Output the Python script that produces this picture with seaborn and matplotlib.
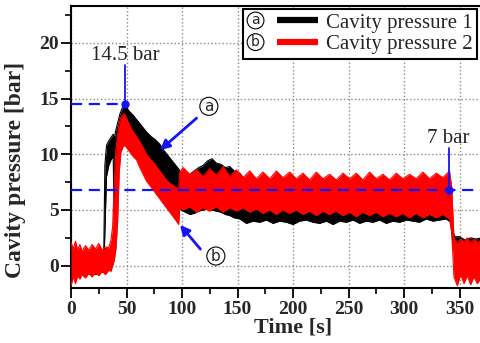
import numpy as np
import pandas as pd
import matplotlib
matplotlib.use("Agg")
import matplotlib.pyplot as plt
import seaborn as sns
from matplotlib.lines import Line2D
from matplotlib.text import Text
from matplotlib.legend_handler import HandlerBase
from matplotlib.ticker import MultipleLocator

# ---------------- data ----------------
# Cavity pressure 1 (black): lower / upper envelope of the noisy trace
t1 = [0, 5, 10, 15, 20, 25, 29.5, 30.5, 32, 34, 36, 38, 39, 40, 42, 44, 46, 48.5,
      52, 56, 60, 64, 68, 72, 76, 80, 84, 88, 92, 96, 97.5, 99, 103, 107, 111, 115,
      119, 123, 127, 131, 135, 139, 143, 147, 152, 158, 164, 170, 176, 182, 188,
      194, 200, 206, 212, 218, 224, 230, 236, 242, 248, 254, 260, 266, 272, 278,
      284, 290, 296, 302, 308, 314, 320, 326, 332, 338, 342, 344, 346, 350, 355,
      360, 365, 370]
p1_lo = [-0.9, -0.7, -0.8, -0.6, -0.8, -0.7, -0.5, 3.0, 8.0, 9.0, 9.5, 9.8, 3.3, 8.5,
         10.0, 11.0, 11.8, 12.2, 11.6, 11.0, 10.5, 10.0, 9.5, 9.0, 8.6, 8.2, 7.7,
         7.2, 6.8, 6.4, 6.3, 5.0, 4.8, 4.6, 4.7, 4.9, 5.0, 5.1, 5.0, 4.9, 4.8, 4.6,
         4.5, 4.3, 4.2, 3.8, 4.0, 3.9, 4.1, 3.8, 4.0, 3.9, 3.7, 4.0, 4.1, 3.9, 3.8,
         4.0, 3.7, 4.0, 3.9, 4.1, 3.8, 4.0, 3.9, 4.1, 3.8, 4.0, 3.9, 4.1, 4.0, 3.9,
         4.2, 4.0, 4.1, 4.2, 3.9, 2.0, 1.2, 1.0, 1.2, 1.1, 1.0, 1.1]
p1_hi = [1.0, 0.9, 0.8, 0.6, 0.7, 0.8, 1.0, 9.0, 10.8, 11.2, 11.5, 11.8, 11.4, 12.0,
         12.8, 13.6, 14.1, 14.55, 13.9, 13.5, 13.0, 12.5, 12.0, 11.6, 11.3, 10.9,
         10.3, 9.8, 9.3, 8.8, 8.6, 8.2, 8.3, 8.2, 8.5, 8.8, 9.0, 9.4, 9.6, 9.2, 9.1,
         8.8, 8.9, 8.5, 8.3, 7.6, 7.8, 7.5, 7.7, 7.5, 7.6, 7.4, 7.6, 7.5, 7.7, 7.4,
         7.6, 7.5, 7.4, 7.6, 7.5, 7.7, 7.4, 7.6, 7.5, 7.6, 7.4, 7.5, 7.6, 7.4, 7.6,
         7.5, 7.6, 7.4, 7.5, 7.6, 7.5, 3.0, 2.6, 2.6, 2.3, 2.5, 2.4, 2.5]

# Cavity pressure 2 (red): lower / upper envelope of the noisy trace
t2 = [0, 2, 4, 6, 8, 10, 13, 16, 19, 22, 25, 28, 31, 34, 36, 37.5, 39, 40.5, 42,
      43.5, 45, 47, 48.5, 50, 53, 56, 59, 62, 65, 68, 71, 74, 77, 80, 83, 86, 89,
      92, 95, 97, 98, 101, 107, 113, 119, 125, 131, 137, 143, 149, 155, 161, 167,
      173, 179, 185, 191, 197, 203, 209, 215, 221, 227, 233, 239, 245, 251, 257,
      263, 269, 275, 281, 287, 293, 299, 305, 311, 317, 323, 329, 335, 341, 343,
      345, 348, 351, 354, 357, 360, 363, 366, 370]
p2_lo = [-1.8, -1.0, -1.6, -0.9, -1.2, -0.8, -1.1, -0.7, -1.0, -0.6, -0.9, -0.5,
         -0.8, -0.4, -0.5, 0.0, 0.5, 1.5, 4.0, 8.5, 10.2, 10.7, 10.8, 10.6, 10.2,
         9.8, 9.5, 8.8, 8.2, 7.6, 7.2, 6.8, 6.4, 6.0, 5.6, 5.2, 4.8, 4.4, 4.0, 3.7,
         5.2, 5.0, 5.3, 4.8, 5.2, 4.9, 5.3, 4.8, 5.2, 4.9, 5.2, 4.8, 5.1, 4.7, 5.0,
         4.6, 5.0, 4.7, 5.0, 4.6, 4.9, 4.5, 4.9, 4.6, 4.9, 4.5, 4.8, 4.4, 4.8, 4.5,
         4.8, 4.4, 4.7, 4.4, 4.7, 4.3, 4.7, 4.3, 4.6, 4.3, 4.6, 4.2, 3.0, -1.0,
         -1.8, -0.8, -1.6, -0.9, -1.7, -1.0, -1.6, -1.0]
p2_hi = [2.1, 1.5, 2.2, 1.4, 1.9, 1.3, 1.8, 1.4, 1.9, 1.5, 2.0, 1.4, 1.7, 1.6, 2.3,
         3.5, 7.5, 10.5, 11.8, 12.8, 13.3, 13.6, 13.6, 13.2, 12.6, 12.0, 11.6, 11.1,
         10.6, 10.0, 9.6, 9.3, 8.9, 8.5, 8.1, 7.7, 7.4, 7.2, 7.0, 6.9, 8.4, 8.8,
         8.2, 8.6, 8.0, 8.7, 8.1, 8.9, 8.0, 8.6, 7.9, 8.5, 7.8, 8.4, 7.8, 8.5, 7.9,
         8.4, 7.8, 8.3, 7.7, 8.4, 7.8, 8.2, 7.7, 8.3, 7.8, 8.3, 7.7, 8.4, 7.8, 8.2,
         7.7, 8.3, 7.8, 8.2, 7.8, 8.4, 7.8, 8.3, 7.9, 8.5, 7.0, 2.5, 2.0, 2.4, 2.1,
         2.5, 2.0, 2.4, 2.1, 2.3]

series_labels = ["Cavity pressure 1", "Cavity pressure 2"]
series_letters = ["a", "b"]
series_colors = ["black", "#ff0000"]

peak_time, peak_value, peak_text = 48.6, 14.5, "14.5 bar"
steady_time, steady_value, steady_text = 340.5, 6.8, "7 bar"

x_ticks = [0, 50, 100, 150, 200, 250, 300, 350]
y_ticks = [0, 5, 10, 15, 20]

# ---------------- figure ----------------
sns.set_style("ticks")
plt.rcParams['font.family'] = ['Liberation Serif', 'DejaVu Serif']

fig = plt.figure(figsize=(4.81, 3.43), dpi=100)
ax = fig.add_axes([71 / 481, 1 - 288 / 343, 444 / 481, 282 / 343])

blue = "#1414f5"

df1 = pd.DataFrame({"t": t1, "lo": p1_lo, "hi": p1_hi})
df2 = pd.DataFrame({"t": t2, "lo": p2_lo, "hi": p2_hi})

for df, col, z in [(df1, series_colors[0], 2), (df2, series_colors[1], 3)]:
    ax.fill_between(df["t"], df["lo"], df["hi"], color=col, lw=0, zorder=z)
    sns.lineplot(data=df, x="t", y="lo", ax=ax, color=col, lw=0.8,
                 estimator=None, sort=False, zorder=z)
    sns.lineplot(data=df, x="t", y="hi", ax=ax, color=col, lw=0.8,
                 estimator=None, sort=False, zorder=z)

# reference lines
dash = (0, (5, 3))
ax.plot([0, peak_time], [peak_value, peak_value], color=blue, lw=1.6,
        linestyle=dash, zorder=6)
ax.axhline(steady_value, color=blue, lw=1.6, linestyle=dash, zorder=6)
ax.plot([peak_time, peak_time], [peak_value, 18.0], color=blue, lw=1.3, zorder=6)
ax.plot([steady_time, steady_time], [steady_value, 10.55], color=blue, lw=1.3, zorder=6)
ax.plot([peak_time, steady_time], [peak_value, steady_value], ls="none",
        marker="o", ms=5, color=blue, zorder=7)
ax.text(peak_time, 18.5, peak_text, ha="center", va="baseline", fontsize=15)
ax.text(steady_time - 1, 10.98, steady_text, ha="center", va="baseline", fontsize=15)

# arrows with circled letters
circ = dict(boxstyle="circle,pad=0.1", fc="white", ec="black", lw=0.8)
ax.annotate("", xy=(78.3, 10.2), xytext=(115, 13.4),
            arrowprops=dict(arrowstyle="-|>", color=blue, lw=2, mutation_scale=14),
            zorder=8)
ax.annotate("", xy=(96.6, 3.85), xytext=(118.2, 1.3),
            arrowprops=dict(arrowstyle="-|>", color=blue, lw=2, mutation_scale=14),
            zorder=8)
ax.text(124.2, 14.3, series_letters[0], ha="center", va="center", fontsize=11,
        family="DejaVu Sans", bbox=circ, zorder=9)
ax.text(130.5, 0.87, series_letters[1], ha="center", va="center", fontsize=11,
        family="DejaVu Sans", bbox=circ, zorder=9)

# axes styling
ax.set_xlim(0, 400)
ax.set_ylim(-2, 23.3)
ax.set_xticks(x_ticks)
ax.set_yticks(y_ticks)
ax.xaxis.set_minor_locator(MultipleLocator(25))
ax.yaxis.set_minor_locator(MultipleLocator(2.5))
ax.grid(True, which="major", ls=":", color="#8a8a8a", lw=1.0)
ax.set_axisbelow(True)
ax.tick_params(which="major", direction="out", length=7, width=1.3,
               labelsize=14, pad=2, color="black")
ax.tick_params(which="minor", direction="out", length=4, width=1.2, color="black")
for lab in ax.get_xticklabels() + ax.get_yticklabels():
    lab.set_fontweight("bold")
for s in ax.spines.values():
    s.set_linewidth(1.5)
    s.set_color("black")

ax.set_xlabel("Time [s]", fontsize=16, fontweight="bold", labelpad=0)
ax.set_ylabel("Cavity pressure [bar]", fontsize=17, fontweight="bold")
ax.yaxis.set_label_coords(-0.125, 0.418)
ax.yaxis.label.set_verticalalignment("center")


# legend: circled letter + thick line + label
class LetterLine(HandlerBase):
    def __init__(self, letter, **kw):
        super().__init__(**kw)
        self.letter = letter

    def create_artists(self, legend, orig_handle, xdescent, ydescent, width,
                       height, fontsize, trans):
        yc = height / 2 - ydescent
        x0 = -xdescent
        txt = Text(x0 + 0.12 * width, yc, self.letter, ha="center", va="center",
                   fontsize=10, family="DejaVu Sans", transform=trans,
                   bbox=dict(boxstyle="circle,pad=0.1", fc="white", ec="black",
                             lw=0.8))
        ln = Line2D([x0 + 0.42 * width, x0 + width], [yc, yc],
                    color=orig_handle.get_color(), lw=4.5,
                    solid_capstyle="butt", transform=trans)
        return [ln, txt]


handles = [Line2D([], [], color=c, lw=4.5) for c in series_colors]
hmap = {h: LetterLine(l) for h, l in zip(handles, series_letters)}
leg = ax.legend(handles, series_labels, handler_map=hmap,
                loc="upper right", bbox_to_anchor=((477 - 71) / 444, (288 - 9) / 282),
                borderaxespad=0, fontsize=15, frameon=True, fancybox=False,
                framealpha=1, edgecolor="black", handlelength=3.4,
                handletextpad=0.4, borderpad=0.2, labelspacing=0.1)
leg.get_frame().set_linewidth(1.5)
leg.set_zorder(10)

fig.savefig("out.png", dpi=100)
